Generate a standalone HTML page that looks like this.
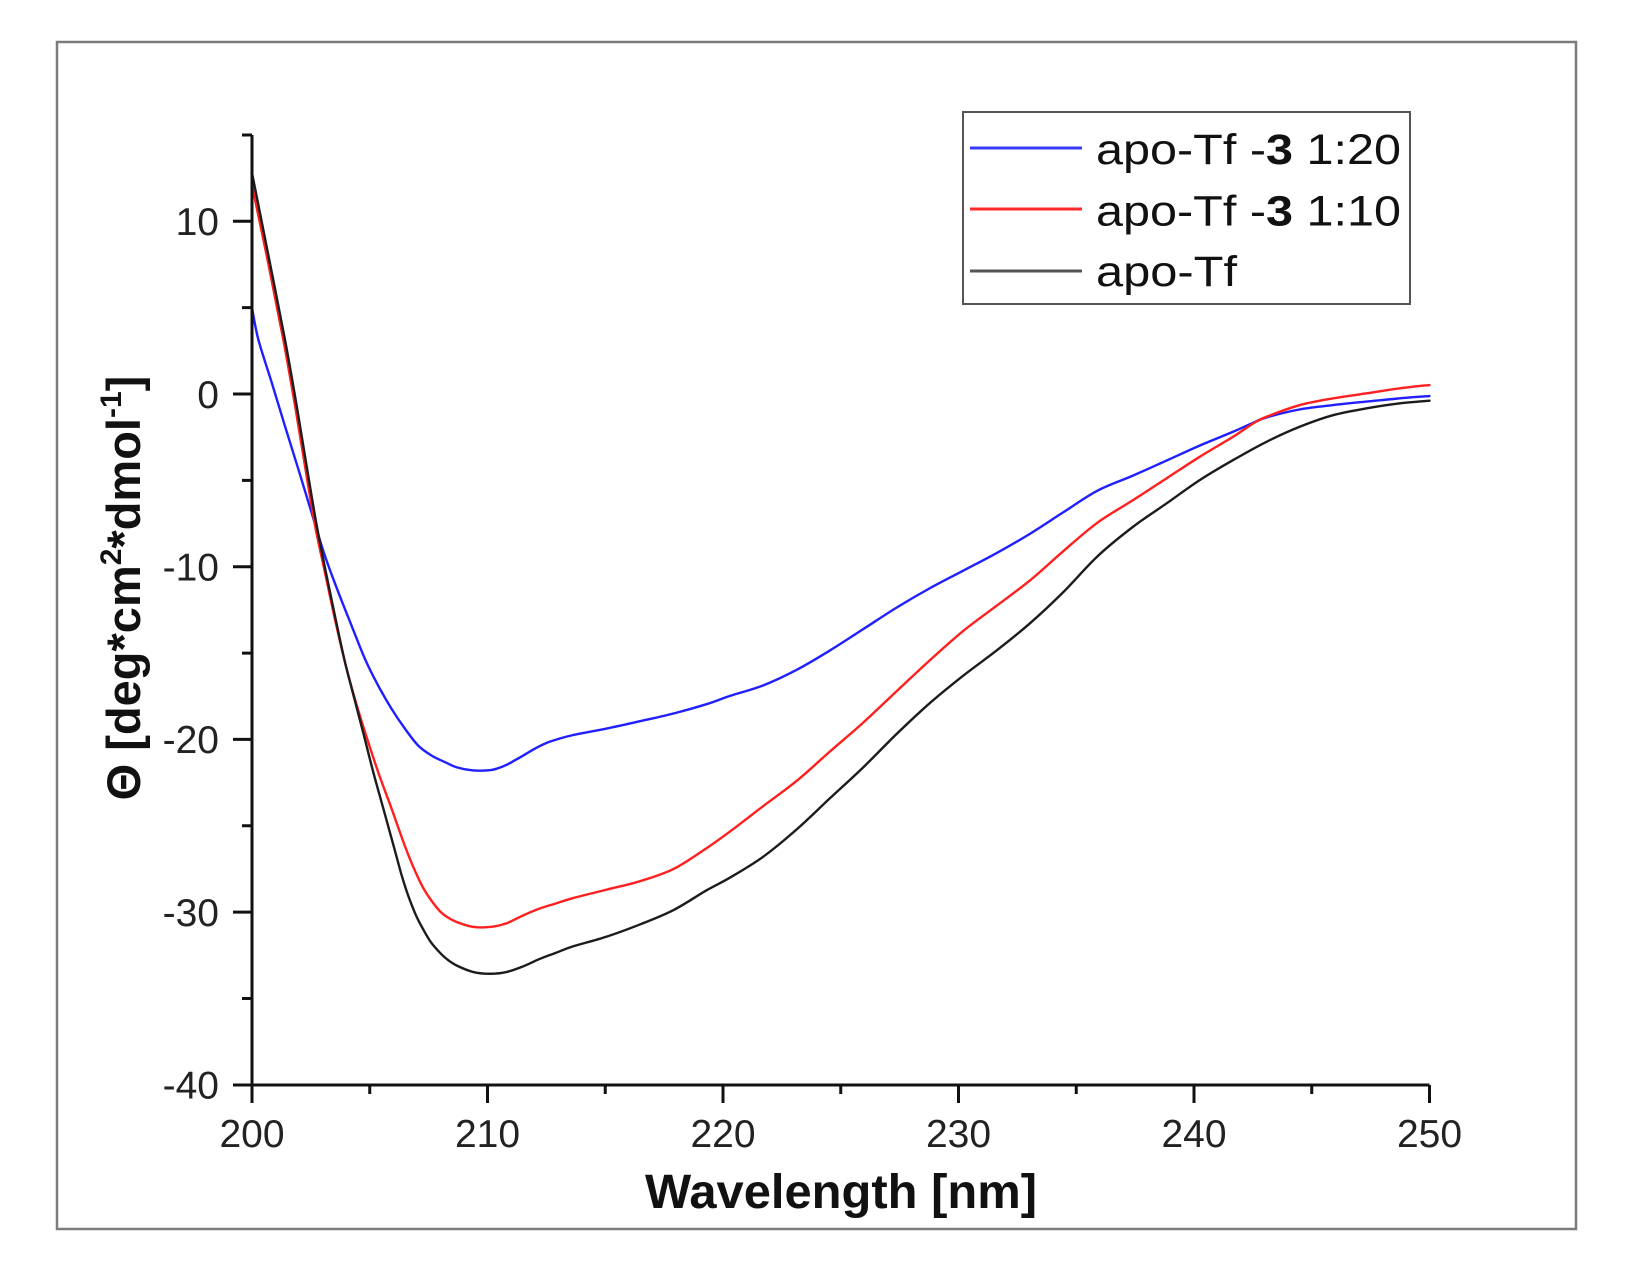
<!DOCTYPE html>
<html>
<head>
<meta charset="utf-8">
<style>
  html, body { margin: 0; padding: 0; background: #fff; }
  svg { display: block; }
  text { font-family: "Liberation Sans", Arial, sans-serif; }
</style>
</head>
<body>
<svg id="chart" width="1641" height="1278" viewBox="0 0 1641 1278" xmlns="http://www.w3.org/2000/svg">
  <rect x="0" y="0" width="1641" height="1278" fill="#ffffff"/>
  <!-- outer frame -->
  <rect x="57" y="42" width="1519" height="1187" fill="#ffffff" stroke="#7c7c7c" stroke-width="2.5"/>

  <!-- curves (data coordinates) -->
  <g id="curves" transform="translate(252 394) scale(23.55 -17.27) translate(-200 0)" fill="none" stroke-linejoin="round" stroke-linecap="round">
    <polyline class="c" vector-effect="non-scaling-stroke" stroke="#1f1fff" stroke-width="2.4" points="
      200,5.0 200.27,3.15 200.84,0.65 201.40,-1.86 201.97,-4.36 202.53,-6.87 203.10,-9.38 203.67,-11.49
      204.23,-13.42 204.80,-15.35 205.36,-16.89 205.93,-18.24 206.50,-19.39 207.06,-20.36 207.63,-20.94
      208.20,-21.32 208.7,-21.62 209.4,-21.8 210.1,-21.78 210.45,-21.67 210.8,-21.48 211.15,-21.22 211.5,-20.95
      211.85,-20.66 212.2,-20.4 212.55,-20.18 212.9,-20.02
      213.6,-19.76 215.06,-19.37 216.5,-18.94 217.9,-18.5 219.3,-17.96 220.3,-17.48 221.71,-16.87
      223.13,-15.97 224.54,-14.85 225.96,-13.61 227.37,-12.37 228.79,-11.24 230.20,-10.23 231.62,-9.21
      233.04,-8.09 234.45,-6.85 235.9,-5.6 237.42,-4.72 238.84,-3.85 240.25,-2.98 241.67,-2.18
      242.52,-1.66 243.09,-1.35 244.50,-0.89 245.92,-0.64 247.33,-0.44 248.75,-0.25 250,-0.12"/>
    <polyline class="c" vector-effect="non-scaling-stroke" stroke="#ff1f1f" stroke-width="2.4" points="
      200,12.1 200.7,7.5 201.33,3.15 201.83,-0.7 202.25,-4.17 202.68,-7.64 203.10,-10.34 203.52,-13.03
      203.95,-15.54 204.37,-17.66 204.80,-19.58 205.36,-21.9 205.93,-24.02 206.3,-25.45 206.64,-26.7 206.95,-27.7 207.27,-28.6
      207.6,-29.3 207.98,-29.95 208.3,-30.3 208.7,-30.58 209.4,-30.86 210.1,-30.86 210.8,-30.65 211.5,-30.2 212.2,-29.8
      212.9,-29.5 213.6,-29.2 215.06,-28.7 216.5,-28.2 217.9,-27.5 219.3,-26.3 220.3,-25.33 221.71,-23.86
      223.13,-22.40 224.54,-20.70 225.96,-19.02 227.37,-17.21 228.79,-15.41 230.20,-13.72 231.62,-12.26
      233.04,-10.79 234.45,-9.10 235.9,-7.45 237.42,-6.14 238.84,-4.88 240.25,-3.63 241.67,-2.47
      242.52,-1.70 243.09,-1.31 244.50,-0.64 245.92,-0.25 247.33,0.04 248.75,0.33 250,0.52"/>
    <polyline class="c" vector-effect="non-scaling-stroke" stroke="#1c1c1c" stroke-width="2.4" points="
      200,12.8 200.7,8.0 201.40,3.15 201.90,-0.7 202.32,-4.17 202.72,-7.4 203.14,-10.34 203.55,-13.03
      203.95,-15.54 204.35,-17.66 204.73,-19.65 205.15,-21.9 205.58,-24.02 206.14,-26.8 206.35,-27.85 206.57,-28.8
      206.8,-29.65 207.0,-30.3 207.27,-31.0 207.6,-31.75 207.98,-32.35 208.3,-32.75 208.7,-33.1 209.4,-33.47 210.1,-33.57
      210.8,-33.47 211.5,-33.15 212.2,-32.72 212.9,-32.36 213.6,-32.0 215.06,-31.42 216.5,-30.7 217.9,-29.88 219.3,-28.74
      220.3,-28.0 221.71,-26.79 223.13,-25.21 224.54,-23.41 225.96,-21.61 227.37,-19.69 228.79,-17.89
      230.20,-16.31 231.62,-14.85 233.04,-13.27 234.45,-11.47 235.9,-9.4 237.42,-7.68 238.84,-6.33
      240.25,-4.98 241.67,-3.82 243.09,-2.76 244.50,-1.89 245.92,-1.22 247.33,-0.83 248.75,-0.54 250,-0.39"/>
  </g>

  <!-- axes -->
  <path d="M252 135 V1085 H1429.5" fill="none" stroke="#111" stroke-width="3"/>
  <!-- x ticks -->
  <path d="M252 1085V1103 M487.5 1085V1103 M723 1085V1103 M958.5 1085V1103 M1194 1085V1103 M1429.5 1085V1103
           M369.75 1085V1094 M605.25 1085V1094 M840.75 1085V1094 M1076.25 1085V1094 M1311.75 1085V1094"
        fill="none" stroke="#111" stroke-width="3"/>
  <!-- y ticks -->
  <path d="M233 221.3H252 M233 394H252 M233 566.7H252 M233 739.4H252 M233 912.1H252 M233 1085H252
           M242 135H252 M242 307.6H252 M242 480.4H252 M242 653.1H252 M242 825.8H252 M242 998.5H252"
        fill="none" stroke="#111" stroke-width="3"/>

  <!-- x tick labels -->
  <g font-size="39" fill="#222" text-anchor="middle">
    <text x="252" y="1147">200</text>
    <text x="487.5" y="1147">210</text>
    <text x="723" y="1147">220</text>
    <text x="958.5" y="1147">230</text>
    <text x="1194" y="1147">240</text>
    <text x="1429.5" y="1147">250</text>
  </g>
  <!-- y tick labels -->
  <g font-size="39" fill="#222" text-anchor="end">
    <text x="219" y="235">10</text>
    <text x="219" y="408">0</text>
    <text x="219" y="580.5">-10</text>
    <text x="219" y="753">-20</text>
    <text x="219" y="926">-30</text>
    <text x="219" y="1098.5">-40</text>
  </g>

  <!-- axis titles -->
  <text x="841" y="1208" font-size="48" font-weight="bold" fill="#111" text-anchor="middle" textLength="392" lengthAdjust="spacingAndGlyphs">Wavelength [nm]</text>
  <text transform="translate(140 588) rotate(-90)" font-size="47" font-weight="bold" fill="#111" text-anchor="middle">Θ [deg*cm<tspan font-size="30" dy="-19">2</tspan><tspan dy="19">*dmol</tspan><tspan font-size="30" dy="-19">-1</tspan><tspan dy="19">]</tspan></text>

  <!-- legend -->
  <rect x="963" y="112" width="447" height="192" fill="#ffffff" stroke="#555" stroke-width="2"/>
  <line x1="970" y1="148" x2="1082" y2="148" stroke="#3a3aff" stroke-width="3"/>
  <line x1="970" y1="209" x2="1082" y2="209" stroke="#ff2a2a" stroke-width="3"/>
  <line x1="970" y1="271" x2="1082" y2="271" stroke="#555" stroke-width="3"/>
  <g font-size="43" fill="#111">
    <text x="1096" y="164" textLength="305" lengthAdjust="spacingAndGlyphs">apo-Tf -<tspan font-weight="bold">3</tspan> 1:20</text>
    <text x="1096" y="225.5" textLength="305" lengthAdjust="spacingAndGlyphs">apo-Tf -<tspan font-weight="bold">3</tspan> 1:10</text>
    <text x="1096" y="286" textLength="141" lengthAdjust="spacingAndGlyphs">apo-Tf</text>
  </g>
</svg>
<script>
(function(){
  try {
    var NS = "http://www.w3.org/2000/svg";
    var polys = document.querySelectorAll("#curves polyline.c");
    for (var k = 0; k < polys.length; k++) {
      var pl = polys[k];
      var raw = pl.getAttribute("points").trim().split(/\s+/);
      var P = [];
      for (var i = 0; i < raw.length; i++) {
        var xy = raw[i].split(",");
        if (xy.length === 2) P.push([parseFloat(xy[0]), parseFloat(xy[1])]);
      }
      if (P.length < 3) continue;
      var d = "M" + P[0][0] + " " + P[0][1];
      for (var j = 0; j < P.length - 1; j++) {
        var p0 = P[j - 1] || P[j], p1 = P[j], p2 = P[j + 1], p3 = P[j + 2] || P[j + 1];
        var c1x = p1[0] + (p2[0] - p0[0]) / 6, c1y = p1[1] + (p2[1] - p0[1]) / 6;
        var c2x = p2[0] - (p3[0] - p1[0]) / 6, c2y = p2[1] - (p3[1] - p1[1]) / 6;
        d += " C" + c1x.toFixed(4) + " " + c1y.toFixed(4) + " " + c2x.toFixed(4) + " " + c2y.toFixed(4) + " " + p2[0] + " " + p2[1];
      }
      var path = document.createElementNS(NS, "path");
      path.setAttribute("d", d);
      path.setAttribute("vector-effect", "non-scaling-stroke");
      path.setAttribute("stroke", pl.getAttribute("stroke"));
      path.setAttribute("stroke-width", pl.getAttribute("stroke-width"));
      path.setAttribute("fill", "none");
      pl.parentNode.replaceChild(path, pl);
    }
  } catch (e) {}
})();
</script>
</body>
</html>
